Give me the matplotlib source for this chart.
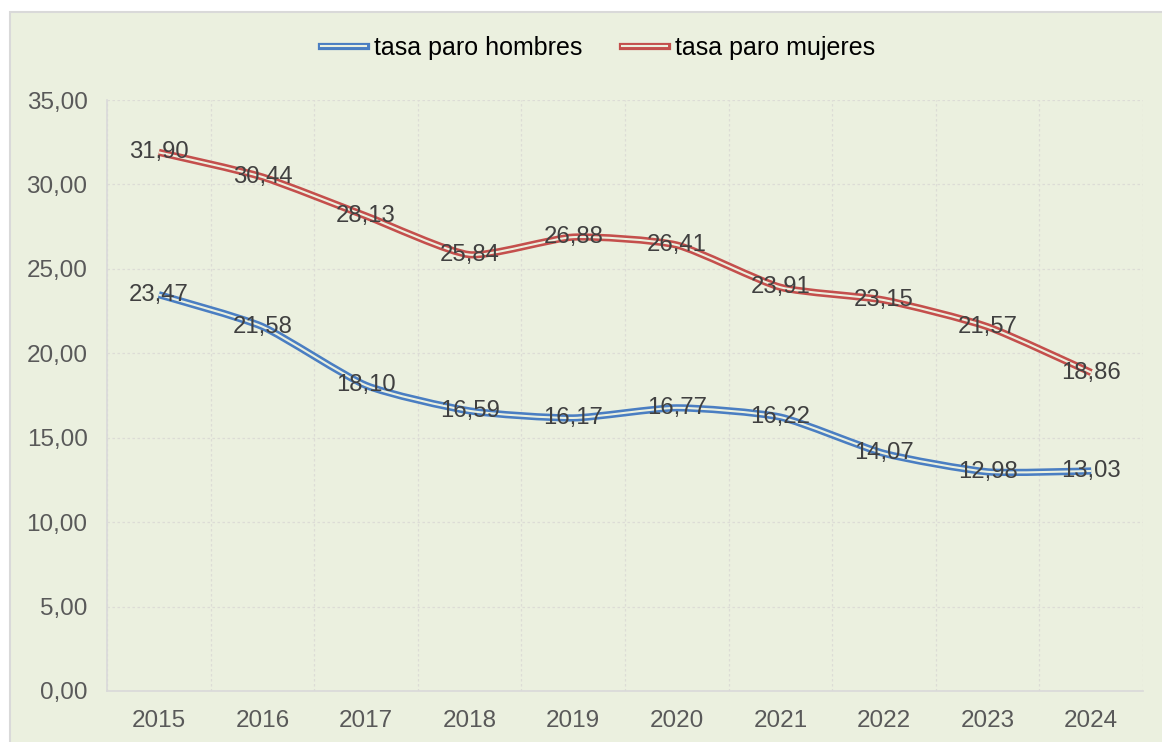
import matplotlib
matplotlib.use("Agg")
import matplotlib.pyplot as plt
import numpy as np
from matplotlib.path import Path
from matplotlib.patches import PathPatch, Rectangle
from matplotlib.lines import Line2D
from matplotlib.legend_handler import HandlerTuple

years = ["2015", "2016", "2017", "2018", "2019", "2020", "2021", "2022", "2023", "2024"]
hombres = [23.47, 21.58, 18.10, 16.59, 16.17, 16.77, 16.22, 14.07, 12.98, 13.03]
mujeres = [31.90, 30.44, 28.13, 25.84, 26.88, 26.41, 23.91, 23.15, 21.57, 18.86]
series_labels = ["tasa paro hombres", "tasa paro mujeres"]

BG = "#EBF0DF"
BLUE = "#4A7EC2"
RED = "#C44F4C"
GRID = "#DCDCD6"

plt.rcParams["font.family"] = ["Liberation Sans", "DejaVu Sans"]


def smooth_path(xs, ys, k=10.0):
    # smoothed line: cubic Bezier segments through each point
    pts = np.column_stack([xs, ys]).astype(float)
    n = len(pts)
    verts = [pts[0]]
    codes = [Path.MOVETO]
    for i in range(n - 1):
        p0 = pts[i - 1] if i > 0 else pts[i]
        p1 = pts[i]
        p2 = pts[i + 1]
        p3 = pts[i + 2] if i + 2 < n else pts[i + 1]
        c1 = p1 + (p2 - p0) / k
        c2 = p2 - (p3 - p1) / k
        verts += [c1, c2, p2]
        codes += [Path.CURVE4] * 3
    return Path(verts, codes)


fig = plt.figure(figsize=(11.62, 7.42), dpi=100, facecolor="white")
fig.patches.append(Rectangle((10 / 1162, -0.1), 1.2, 1 - 12 / 742 + 0.1,
                             transform=fig.transFigure, facecolor=BG,
                             edgecolor="#D9D9D9", linewidth=1.5, zorder=-10))

ax = fig.add_axes([107 / 1162, 51 / 742, 1036 / 1162, 591 / 742])
ax.set_facecolor(BG)

x = np.arange(len(years))
handles = []
for vals, color in [(hombres, BLUE), (mujeres, RED)]:
    p = smooth_path(x, vals)
    ax.add_patch(PathPatch(p, facecolor="none", edgecolor=color, lw=5.2,
                           capstyle="butt", zorder=3))
    ax.add_patch(PathPatch(p, facecolor="none", edgecolor=BG, lw=1.5,
                           capstyle="butt", zorder=4))
    for xi, v in zip(x, vals):
        ax.text(xi, v, f"{v:.2f}".replace(".", ","), ha="center", va="center",
                fontsize=17.2, color="#404040", zorder=5)
    handles.append((Line2D([], [], color=color, lw=5.2),
                    Line2D([], [], color=BG, lw=1.5)))

ax.set_xlim(-0.5, len(years) - 0.5)
ax.set_ylim(0, 35)
ax.set_xticks(x)
ax.set_xticklabels(years)
ax.set_xticks(np.arange(-0.5, len(years), 1), minor=True)
ax.set_yticks(np.arange(0, 36, 5))
ax.set_yticklabels([f"{v:.2f}".replace(".", ",") for v in np.arange(0, 36, 5)])
ax.tick_params(axis="both", which="both", length=0, labelsize=17.5,
               labelcolor="#595959")
ax.tick_params(axis="y", pad=14)
ax.tick_params(axis="x", pad=14)

ax.grid(axis="y", which="major", color=GRID, lw=0.9, ls=(0, (2, 2)))
ax.grid(axis="x", which="minor", color=GRID, lw=0.9, ls=(0, (2, 2)))
ax.grid(axis="x", which="major", visible=False)
for side in ["top", "right"]:
    ax.spines[side].set_visible(False)
for side in ["left", "bottom"]:
    ax.spines[side].set_color("#D9D9D9")
    ax.spines[side].set_linewidth(1.2)
ax.set_axisbelow(True)

fig.legend(handles, series_labels, handler_map={tuple: HandlerTuple(ndivide=1)},
           loc="center", bbox_to_anchor=(598 / 1162, 1 - 48 / 742), ncol=2,
           frameon=False, fontsize=18, handlelength=1.8, handletextpad=0.3,
           columnspacing=1.6)

fig.savefig("out.png", dpi=100, facecolor="white")
